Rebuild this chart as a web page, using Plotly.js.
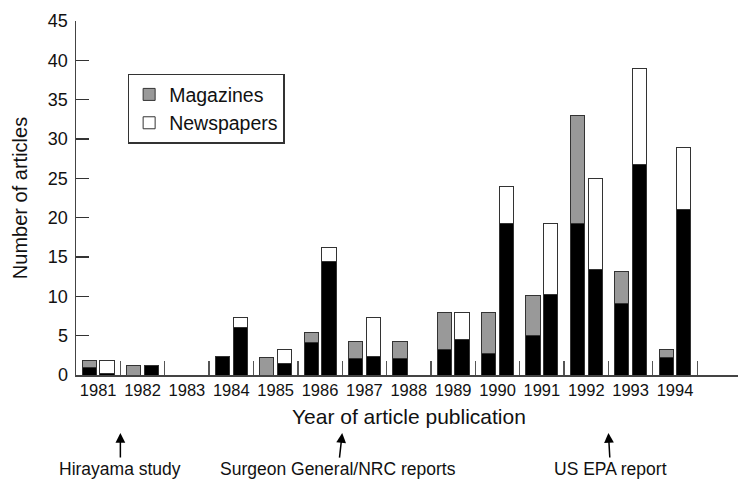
<!DOCTYPE html>
<html>
<head>
<meta charset="utf-8">
<script src="https://cdn.plot.ly/plotly-3.0.1.min.js"></script>
<style>html,body{margin:0;padding:0;background:#fff;}#chart{width:738px;height:480px;}</style>
</head>
<body>
<div id="chart"></div>
<script>
// Data
const years = ["1981","1982","1983","1984","1985","1986","1987","1988","1989","1990","1991","1992","1993","1994"];
// Magazines: black (lower) part and grey (upper) part
const magBlack = [1.0, 0, 0, 2.3, 0, 4.1, 2.1, 2.1, 3.3, 2.7, 5.0, 19.3, 9.1, 2.2];
const magGrey  = [0.8, 1.15, 0, 0, 2.2, 1.3, 2.2, 2.2, 4.7, 5.2, 5.1, 13.7, 4.0, 1.1];
// Newspapers: black (lower) part and white (upper) part
const newsBlack = [0.15, 1.2, 0, 6.0, 1.4, 14.4, 2.3, 0, 4.45, 19.2, 10.2, 13.4, 26.8, 21.0];
const newsWhite = [1.65, 0, 0, 1.3, 1.9, 1.85, 5.0, 0, 3.55, 4.8, 9.0, 11.6, 12.1, 7.9];
// Events marked below the axis (position = boundary after the given year)
const eventLabels = ["Hirayama study", "Surgeon General/NRC reports", "US EPA report"];
const eventAfterYear = ["1981", "1986", "1992"];
const eventTextShift = [0, -4, 2];

const FONT = "Liberation Sans, Arial, Helvetica, sans-serif";
const idx = years.map((_, i) => i);
const xMag = idx.map(i => i - 0.2);
const xNews = idx.map(i => i + 0.2);
const outline = {color: "#333", width: 1};
const W = 0.32;

const traces = [
  {type: "bar", x: xMag, y: magBlack, width: W, marker: {color: "#000", line: outline}, showlegend: false, hoverinfo: "skip"},
  {type: "bar", x: xMag, y: magGrey, width: W, marker: {color: "#999", line: outline}, name: "Magazines"},
  {type: "bar", x: xNews, y: newsBlack, width: W, marker: {color: "#000", line: outline}, showlegend: false, hoverinfo: "skip"},
  {type: "bar", x: xNews, y: newsWhite, width: W, marker: {color: "#fff", line: outline}, name: "Newspapers"}
];

const annotations = eventLabels.map((t, k) => ({
  text: t,
  xref: "x", yref: "paper",
  x: years.indexOf(eventAfterYear[k]) + 0.5,
  y: -0.164,
  ax: eventTextShift[k], ay: 36,
  showarrow: true, arrowhead: 2, arrowsize: 1.3, arrowwidth: 1.5, arrowcolor: "#000",
  standoff: 0, startstandoff: 0,
  font: {family: FONT, size: 17.5, color: "#111"}
}));
annotations.push({
  text: "Year of article publication",
  xref: "paper", yref: "paper",
  x: 0.503, y: -0.116, xanchor: "center", yanchor: "middle",
  showarrow: false,
  font: {family: FONT, size: 21, color: "#111"}
});

const layout = {
  width: 738, height: 480,
  margin: {l: 76, r: 0, t: 21, b: 105},
  paper_bgcolor: "#fff", plot_bgcolor: "#fff",
  barmode: "stack",
  bargap: 0,
  font: {family: FONT, color: "#111"},
  xaxis: {
    range: [-0.5, 14.42],
    tickmode: "array", tickvals: idx, ticktext: years,
    ticks: "", showgrid: false, zeroline: false,
    showline: true, linecolor: "#444", linewidth: 1.5,
    tickfont: {family: FONT, size: 16.5, color: "#111"},
    minor: {tickmode: "array", tickvals: idx.slice(0, -1).map(i => i + 0.5).concat([13.5]), ticks: "inside", ticklen: 14, tickwidth: 1.3, tickcolor: "#555", showgrid: false}
  },
  yaxis: {
    range: [0, 45], dtick: 5, tick0: 0,
    ticks: "inside", ticklen: 13, tickwidth: 1.5, tickcolor: "#333",
    showgrid: false, zeroline: false,
    showline: true, linecolor: "#444", linewidth: 1.5,
    ticklabelstandoff: 3,
    tickfont: {family: FONT, size: 18, color: "#111"},
    title: {text: "Number of articles", standoff: 15, font: {family: FONT, size: 20, color: "#111"}}
  },
  showlegend: true,
  legend: {
    x: 0.078, y: 0.851, xanchor: "left", yanchor: "top",
    bgcolor: "#fff", bordercolor: "#333", borderwidth: 1.5,
    traceorder: "normal", tracegroupgap: 0,
    font: {family: FONT, size: 19.5, color: "#111"}
  },
  annotations: annotations
};

Plotly.newPlot("chart", traces, layout, {displayModeBar: false, staticPlot: true});
</script>
</body>
</html>
